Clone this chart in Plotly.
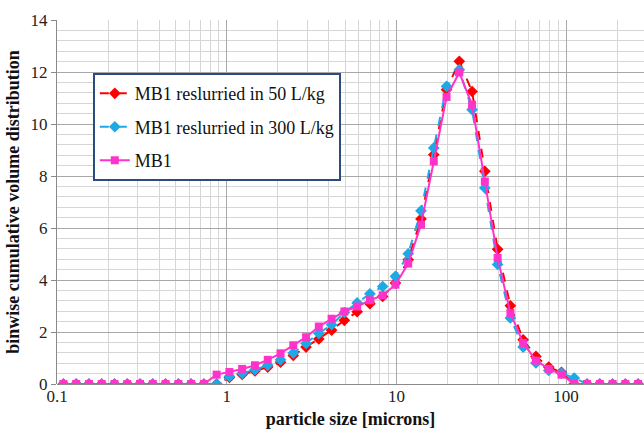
import plotly.graph_objects as go

# Bin centres (microns), quarter-octave spacing
size_um = [
    0.1091, 0.1297, 0.1542, 0.1834, 0.2181, 0.2594, 0.3085, 0.3668,
    0.4362, 0.5188, 0.6169, 0.7337, 0.8725, 1.0376, 1.2339, 1.4674,
    1.7451, 2.0752, 2.4679, 2.9348, 3.4901, 4.1505, 4.9358, 5.8697,
    6.9803, 8.3011, 9.8716, 11.739, 13.960, 16.602, 19.743, 23.479,
    27.921, 33.204, 39.486, 46.957, 55.841, 66.407, 78.972, 93.914,
    111.68, 132.81, 157.94, 187.83, 223.36, 265.63,
]

mb1_50 = [
    0, 0, 0, 0, 0, 0, 0, 0, 0, 0, 0, 0, 0, 0.25, 0.37, 0.50,
    0.65, 0.84, 1.10, 1.42, 1.73, 2.07, 2.45, 2.78, 3.09, 3.37, 3.88, 4.78,
    6.35, 8.82, 11.32, 12.41, 11.25, 8.18, 5.18, 3.01, 1.70, 1.06, 0.65, 0.45,
    0, 0, 0, 0, 0, 0,
]

mb1_300 = [
    0, 0, 0, 0, 0, 0, 0, 0, 0, 0, 0, 0, 0, 0.29, 0.41, 0.55,
    0.72, 0.93, 1.19, 1.56, 1.95, 2.28, 2.75, 3.12, 3.47, 3.75, 4.14, 5.01,
    6.66, 9.08, 11.45, 12.09, 10.55, 7.54, 4.60, 2.54, 1.42, 0.81, 0.52, 0.42,
    0.23, 0, 0, 0, 0, 0,
]

mb1 = [
    0, 0, 0, 0, 0, 0, 0, 0, 0, 0, 0, 0, 0.36, 0.46, 0.58, 0.72,
    0.93, 1.18, 1.49, 1.80, 2.21, 2.51, 2.79, 2.98, 3.22, 3.41, 3.82, 4.63,
    6.13, 8.56, 11.04, 11.98, 10.74, 7.79, 4.85, 2.73, 1.58, 0.90, 0.58, 0.36,
    0, 0, 0, 0, 0, 0,
]

x_tick_vals = [0.1, 1, 10, 100]
x_tick_text = ["0.1", "1", "10", "100"]
y_tick_vals = [0, 2, 4, 6, 8, 10, 12, 14]

RED = "#FF0000"
BLUE = "#1CA9E6"
PINK = "#FF33CC"
SERIF = "Liberation Serif"

fig = go.Figure()
fig.add_trace(go.Scatter(
    x=size_um, y=mb1_50, mode="lines+markers",
    name="MB1 reslurried in 50 L/kg", legendgroup="a",
    line=dict(color=RED, width=2, dash="dash"),
    marker=dict(symbol="diamond", size=9, color=RED),
))
fig.add_trace(go.Scatter(
    x=size_um, y=mb1_300, mode="lines+markers",
    name="MB1 reslurried in 300 L/kg", legendgroup="b",
    line=dict(color=BLUE, width=2, dash="dash"),
    marker=dict(symbol="diamond", size=9, color=BLUE),
))
fig.add_trace(go.Scatter(
    x=size_um, y=mb1, mode="lines+markers",
    name="MB1", legendgroup="c",
    line=dict(color=PINK, width=2),
    marker=dict(symbol="square", size=8, color=PINK),
))

fig.update_layout(
    width=644, height=438,
    margin=dict(l=57, r=0, t=20, b=54),
    paper_bgcolor="white", plot_bgcolor="white",
    font=dict(family=SERIF, size=17, color="#222"),
    legend=dict(
        x=0.061, y=0.854, xanchor="left", yanchor="top",
        bgcolor="white", bordercolor="#2B4C7E", borderwidth=2,
        font=dict(family=SERIF, size=18, color="#111"),
        tracegroupgap=7,
    ),
    xaxis=dict(
        type="log", range=[-1, 2.459],
        tickvals=x_tick_vals, ticktext=x_tick_text,
        showgrid=True, gridcolor="#A8A8A8", gridwidth=1,
        minor=dict(dtick="D1", showgrid=True, gridcolor="#D6D6D6", ticks=""),
        showline=False, zeroline=False,
        ticks="", tickfont=dict(family=SERIF, size=17, color="#222"),
        title=dict(text="<b>particle size [microns]</b>",
                   font=dict(family=SERIF, size=18, color="#111"), standoff=7),
    ),
    yaxis=dict(
        range=[0, 14], tickvals=y_tick_vals,
        showgrid=True, gridcolor="#A8A8A8", gridwidth=1,
        minor=dict(dtick=0.4, showgrid=True, gridcolor="#D6D6D6"),
        showline=True, linecolor="#8A8A8A", linewidth=1,
        zeroline=True, zerolinecolor="#8A8A8A", zerolinewidth=1,
        ticks="outside", ticklen=5, tickcolor="#8A8A8A",
        tickfont=dict(family=SERIF, size=17, color="#222"),
        title=dict(text="<b>binwise cumulative volume distribution</b>",
                   font=dict(family=SERIF, size=18, color="#111"), standoff=6),
    ),
)

fig.write_html("out.html")
